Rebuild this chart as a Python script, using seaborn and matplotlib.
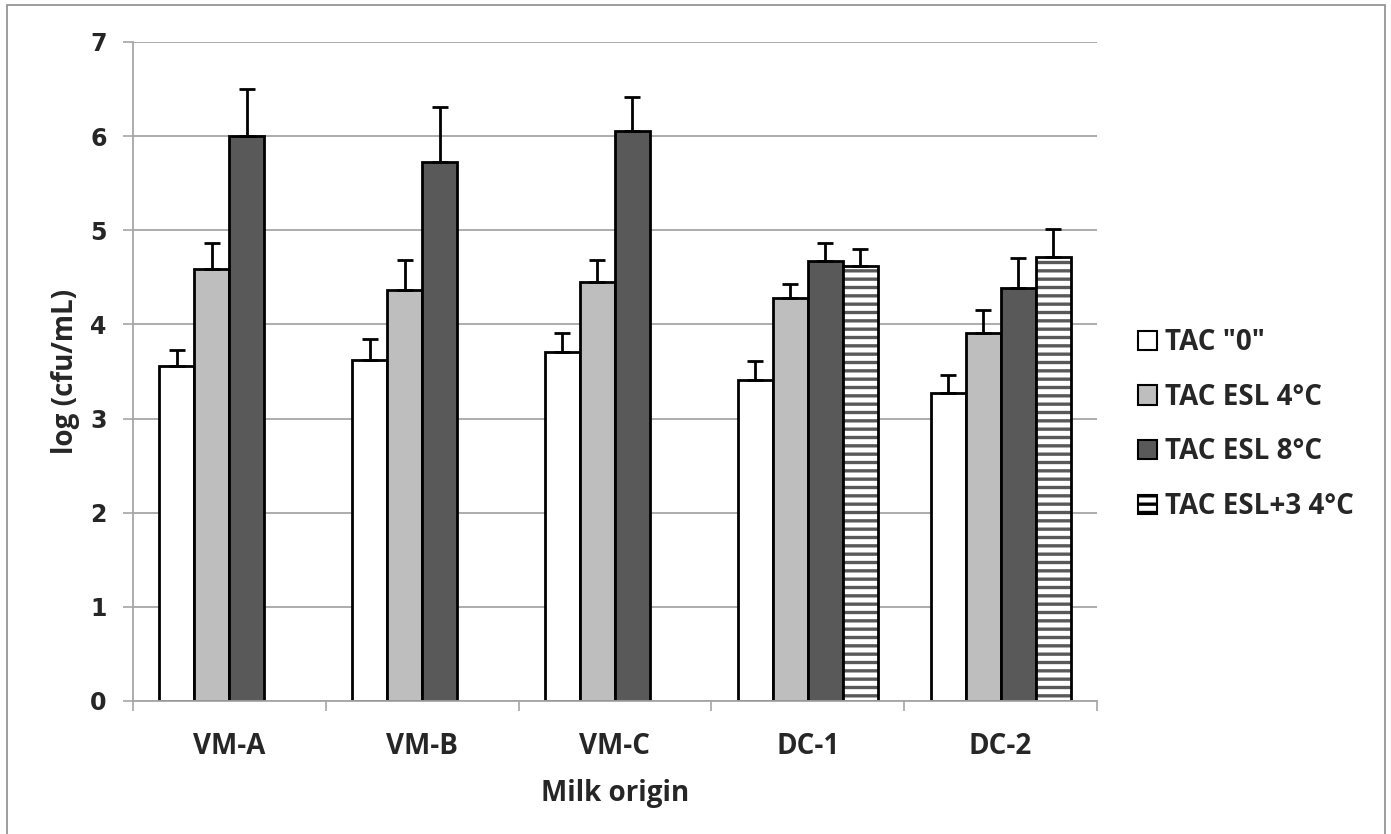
import numpy as np
import pandas as pd
import matplotlib
matplotlib.use("Agg")
import matplotlib.pyplot as plt
import matplotlib.patches as mpatches
import seaborn as sns

sns.set_theme(style="white")
plt.rcParams["font.family"] = ["Open Sans", "DejaVu Sans"]
plt.rcParams["hatch.linewidth"] = 2.4

# === data ===
origins = ["VM-A", "VM-B", "VM-C", "DC-1", "DC-2"]
series = ['TAC "0"', "TAC ESL 4°C", "TAC ESL 8°C", "TAC ESL+3 4°C"]

tac0 = [3.56, 3.62, 3.71, 3.41, 3.27]
esl4 = [4.59, 4.37, 4.45, 4.28, 3.91]
esl8 = [6.00, 5.72, 6.05, 4.67, 4.39]
esl3_4 = [np.nan, np.nan, np.nan, 4.62, 4.72]

tac0_err = [0.17, 0.22, 0.20, 0.20, 0.19]
esl4_err = [0.27, 0.31, 0.23, 0.15, 0.24]
esl8_err = [0.50, 0.59, 0.37, 0.19, 0.32]
esl3_4_err = [np.nan, np.nan, np.nan, 0.18, 0.29]

colors = ["#FFFFFF", "#BEBEBE", "#595959", "#FFFFFF"]

means = [tac0, esl4, esl8, esl3_4]
errs = [tac0_err, esl4_err, esl8_err, esl3_4_err]

rows = []
for s, m, e in zip(series, means, errs):
    for o, v, ev in zip(origins, m, e):
        rows.append({"origin": o, "series": s, "value": v, "err": ev})
df = pd.DataFrame(rows).dropna()

# === figure ===
fig = plt.figure(figsize=(13.91, 8.34), dpi=100)
ax = fig.add_axes([0.0956, 0.1595, 0.6930, 0.7902])

sns.barplot(data=df, x="origin", y="value", hue="series", order=origins,
            hue_order=series, palette=colors, saturation=1, width=0.726,
            errorbar=None, edgecolor="black", linewidth=2.0, legend=False, ax=ax)

# hatch the last series and add the upper error bars
for i, (cont, s) in enumerate(zip(ax.containers, series)):
    sub = df[df["series"] == s]
    for bar, e in zip(cont, sub["err"]):
        if i == 3:
            bar.set_hatch("--")
            bar.set_edgecolor("#595959")
            bar.set_linewidth(0)
            ax.add_patch(mpatches.Rectangle((bar.get_x(), bar.get_y()), bar.get_width(),
                                            bar.get_height(), fill=False,
                                            edgecolor="black", lw=2.0, zorder=bar.get_zorder() + 0.1))
        xc = bar.get_x() + bar.get_width() / 2
        ax.errorbar(xc, bar.get_height(), yerr=[[0], [e]], fmt="none", ecolor="black",
                    elinewidth=2.0, capsize=6, capthick=2.0, zorder=1)

ax.set_ylim(0, 7)
ax.set_xlim(-0.5, 4.5)
ax.set_yticks(range(0, 8))
ax.yaxis.grid(True, color="#A6A6A6", lw=1.3)
ax.set_axisbelow(True)

for side in ["top", "right"]:
    ax.spines[side].set_visible(False)
for side in ["left", "bottom"]:
    ax.spines[side].set_color("#A6A6A6")
    ax.spines[side].set_linewidth(1.3)

ax.tick_params(axis="y", direction="out", length=7, width=1.2, color="#A6A6A6", pad=12, left=True)
for lbl in ax.get_yticklabels():
    lbl.set_fontfamily("DejaVu Sans")
    lbl.set_fontweight("bold")
    lbl.set_fontsize(17)

ax.set_xticks(range(len(origins)))
ax.set_xticklabels(origins, fontsize=20, fontweight="bold")
ax.set_xticks(np.arange(-0.5, len(origins), 1), minor=True)
ax.tick_params(axis="x", which="major", length=0, pad=22)
ax.tick_params(axis="x", which="minor", direction="out", length=7, width=1.2,
               color="#A6A6A6", bottom=True)

ax.set_xlabel("Milk origin", fontsize=20, fontweight="bold", labelpad=13)
ax.set_ylabel("log (cfu/mL)", fontsize=20, fontweight="bold", labelpad=7)

handles = [mpatches.Patch(facecolor=c, edgecolor="black", lw=1.5) for c in colors]
handles[3].set_hatch("--")
ax.legend(handles, series, loc="center left", bbox_to_anchor=(0.818, 0.491),
          bbox_transform=fig.transFigure, frameon=False, prop={"weight": "bold", "size": 20},
          handlelength=0.68, handleheight=0.68, handletextpad=0.3, labelspacing=0.92,
          borderpad=0, borderaxespad=0)

fig.patches.append(mpatches.Rectangle((7 / 1391, -0.01), 1378 / 1391, 1.004,
                                      transform=fig.transFigure, fill=False,
                                      edgecolor="#8C8C8C", lw=1.2))

fig.savefig("out.png", dpi=100)
